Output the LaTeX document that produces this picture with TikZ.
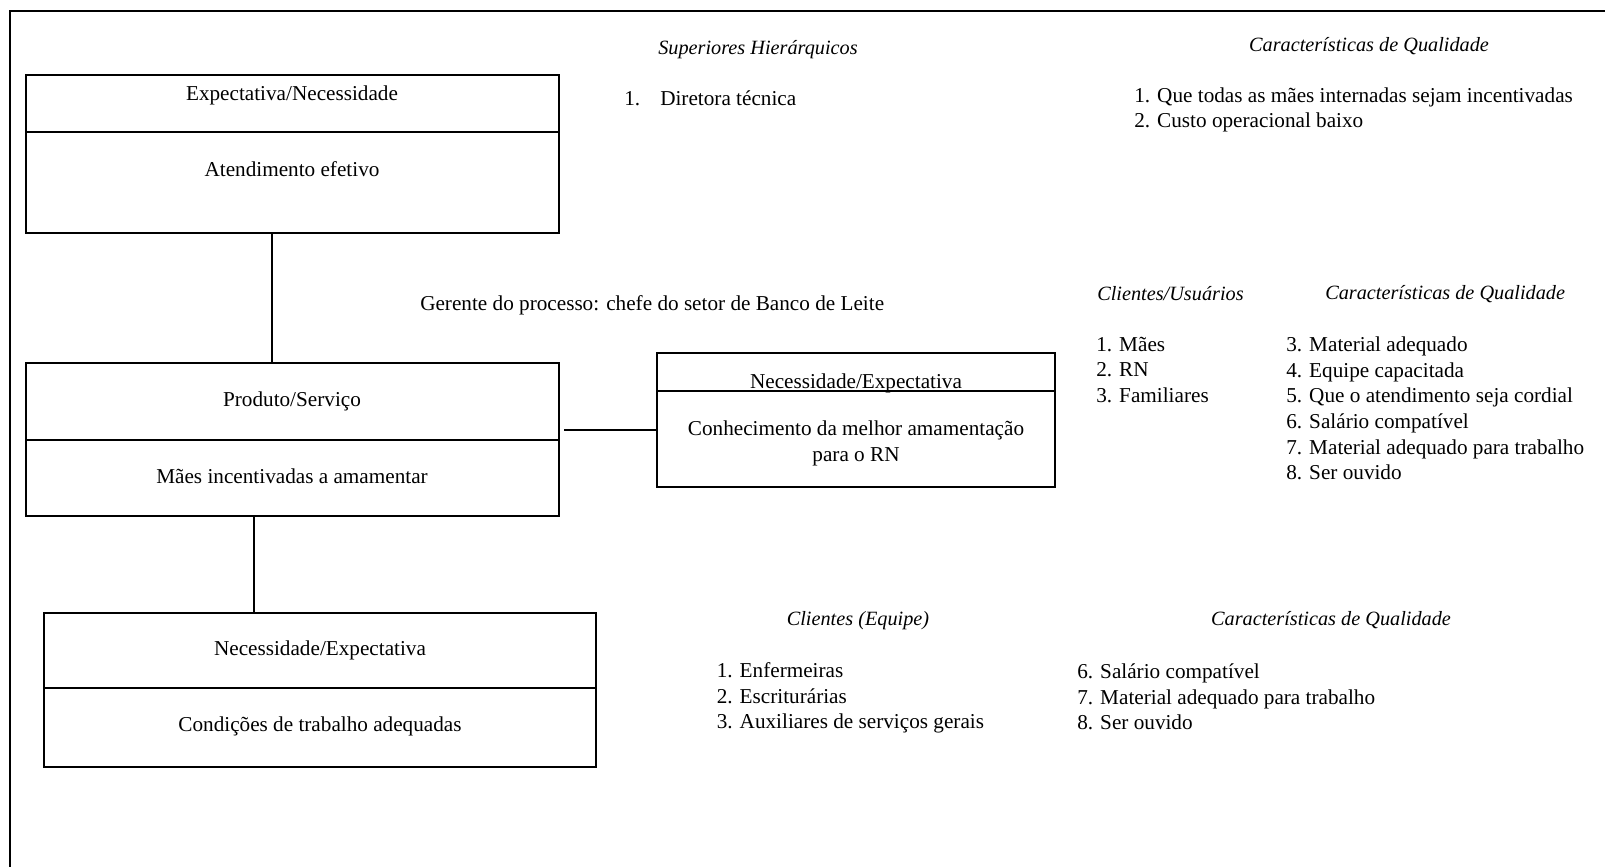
\documentclass[tikz,border=0pt]{standalone}
\usepackage{fontspec}
\setmainfont{Liberation Serif}
\usetikzlibrary{calc}
\begin{document}
\begin{tikzpicture}[x=0.75pt,y=-0.75pt,
  part/.style={draw,line width=1.4pt,anchor=north west,inner sep=0pt,outer sep=0pt},
  txt/.style={font=\fontsize{15.9}{19.2}\selectfont,inner sep=0pt},
  itl/.style={txt,font=\fontsize{15.2}{19.2}\selectfont\itshape},
  lst/.style={txt,anchor=west,align=left},
  link/.style={line width=1.4pt}]
\useasboundingbox (0,0) rectangle (1605,867);
% outer frame (top and left only)
\draw[line width=1.4pt] (1605,11.3) -- (10.2,11.3) -- (10.2,867);

% box 1
\node[part,minimum width=400.05pt,minimum height=42.98pt] (b1h) at (25.6,74.7) {};
\node[part,minimum width=400.05pt,minimum height=76.05pt] (b1b) at (b1h.south west) {};
\node[txt] (t1h) at (292,95) {Expectativa/Necessidade};
\node[txt] (t1b) at (292,169.5) {Atendimento efetivo};

% box 2
\node[part,minimum width=400.05pt,minimum height=57.45pt] (b2h) at (25.6,363.4) {};
\node[part,minimum width=400.05pt,minimum height=56.93pt] (b2b) at (b2h.south west) {};
\node[txt] (t2h) at (292,401) {Produto/Serviço};
\node[txt] (t2b) at (292,476) {Mães incentivadas a amamentar};

% box 3
\node[part,minimum width=413.78pt,minimum height=56.25pt] (b3h) at (44,613) {};
\node[part,minimum width=413.78pt,minimum height=59.03pt] (b3b) at (b3h.south west) {};
\node[txt] (t3h) at (320,650) {Necessidade/Expectativa};
\node[txt] (t3b) at (320,726) {Condições de trabalho adequadas};

% box 4
\node[part,minimum width=298.5pt,minimum height=28.5pt] (b4h) at (657,353) {};
\node[part,minimum width=298.5pt,minimum height=72pt] (b4b) at (b4h.south west) {};
\node[txt] (t4h) at (856,383) {Necessidade/Expectativa};
\node[txt,align=center] (t4b) at (856,443.5) {Conhecimento da melhor amamentação\\para o RN};

% connectors
\coordinate (c1) at (272,0);
\coordinate (c2) at (254,0);
\coordinate (c3) at (0,430);
\draw[link] (c1 |- b1b.south) -- (c1 |- b2h.north);
\draw[link] (c2 |- b2b.south) -- (c2 |- b3h.north);
\draw[link] ($(b2b.east |- c3)+(5,0)$) -- (b4b.west |- c3);

% process manager
\node[lst] (ger) at (420,305) {Gerente do processo: chefe do setor de Banco de Leite};

% superiors
\node[itl] (sup) at (758,50) {Superiores Hierárquicos};
\node[lst] (sup1n) at (624,98.5) {1.};
\node[lst] (sup1) at (660,98.5) {Diretora técnica};
\node[itl] (cq1) at (1369,46) {Características de Qualidade};
\node[lst] (cq1l) at (1134,110) {1. Que todas as mães internadas sejam incentivadas\\2. Custo operacional baixo};

% clients / users
\node[itl,anchor=west] (cu) at (1097,294) {Clientes/Usuários};
\node[itl,anchor=west] (cq2) at (1325,294) {Características de Qualidade};
\node[lst] (cul) at (1096,370) {1. Mães\\2. RN\\3. Familiares};
\node[lst] (cq2l) at (1286,408.5) {3. Material adequado\\4. Equipe capacitada\\5. Que o atendimento seja cordial\\6. Salário compatível\\7. Material adequado para trabalho\\8. Ser ouvido};

% staff clients
\node[itl] (ce) at (858,621) {Clientes (Equipe)};
\node[itl] (cq3) at (1331,620) {Características de Qualidade};
\node[lst] (cel) at (716.5,698) {1. Enfermeiras\\2. Escriturárias\\3. Auxiliares de serviços gerais};
\node[lst] (cq3l) at (1077,697) {6. Salário compatível\\7. Material adequado para trabalho\\8. Ser ouvido};
\end{tikzpicture}
\end{document}
